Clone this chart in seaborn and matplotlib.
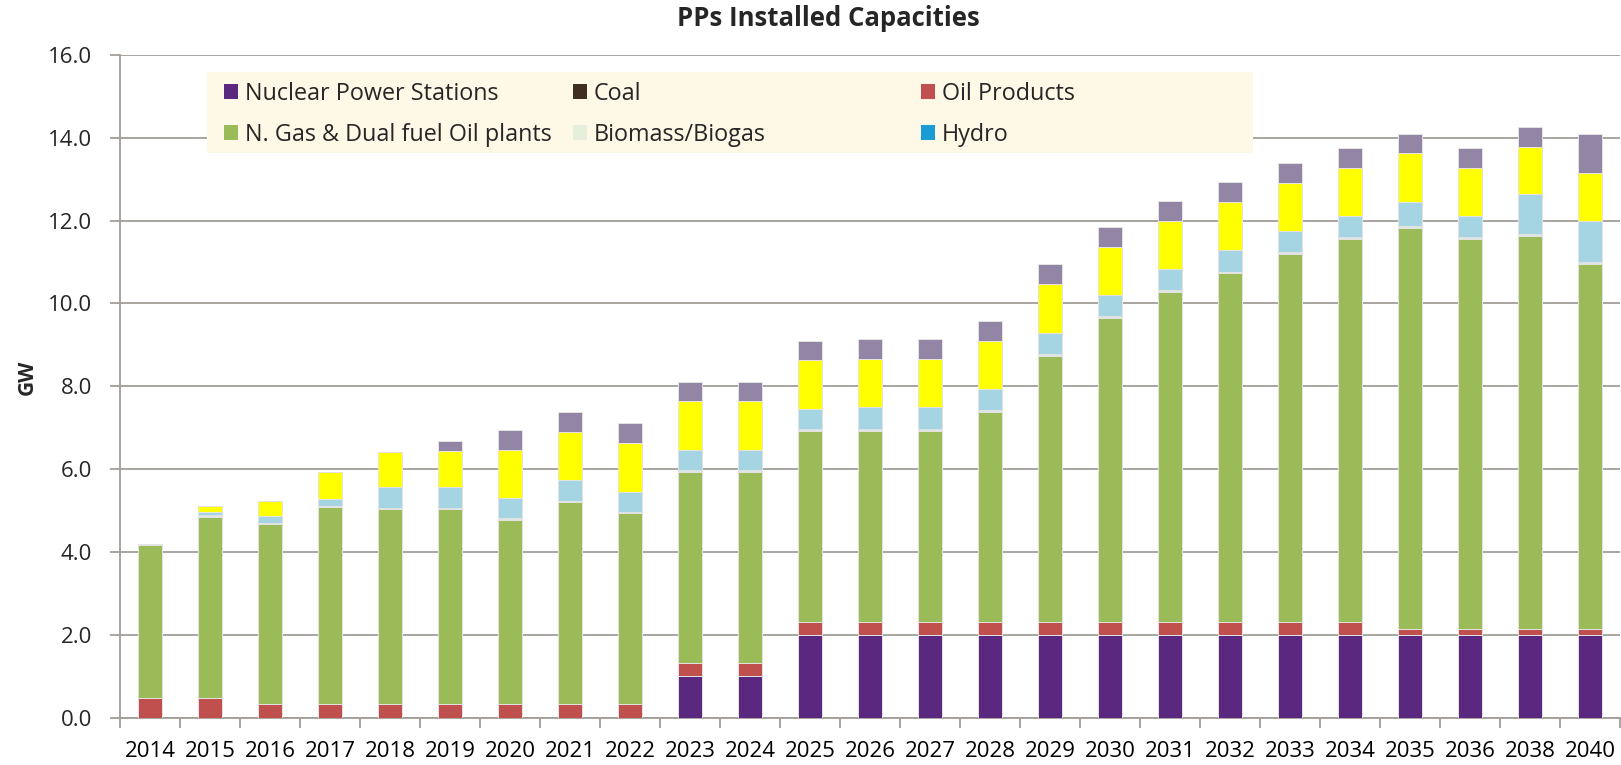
import matplotlib
matplotlib.use("Agg")
import matplotlib.pyplot as plt
from matplotlib.patches import Patch, Rectangle
from matplotlib.ticker import FormatStrFormatter, FixedLocator
import numpy as np
import pandas as pd
import seaborn as sns

sns.set_theme(style="white")
plt.rcParams["font.family"] = ["Open Sans", "DejaVu Sans"]

# ---- data (GW) ----
years = ["2014", "2015", "2016", "2017", "2018", "2019", "2020", "2021", "2022",
         "2023", "2024", "2025", "2026", "2027", "2028", "2029", "2030", "2031",
         "2032", "2033", "2034", "2035", "2036", "2038", "2040"]

nuclear = [0, 0, 0, 0, 0, 0, 0, 0, 0, 1.0, 1.0, 2.0, 2.0, 2.0, 2.0, 2.0, 2.0, 2.0,
           2.0, 2.0, 2.0, 2.0, 2.0, 2.0, 2.0]
coal = [0] * 25
oil_products = [0.47, 0.47, 0.32, 0.32, 0.32, 0.32, 0.32, 0.32, 0.32, 0.32, 0.32,
                0.31, 0.31, 0.31, 0.31, 0.31, 0.31, 0.31, 0.31, 0.31, 0.31,
                0.14, 0.14, 0.14, 0.14]
natural_gas = [3.71, 4.38, 4.35, 4.76, 4.71, 4.71, 4.45, 4.88, 4.61, 4.62, 4.62,
               4.62, 4.62, 4.62, 5.08, 6.43, 7.35, 7.97, 8.42, 8.89, 9.25,
               9.68, 9.42, 9.49, 8.81]
biomass = [0.02] * 25
hydro = [0, 0.02, 0.02, 0.02, 0.02, 0.02, 0.02, 0.02, 0.02, 0.02, 0.02, 0.02, 0.02,
         0.02, 0.02, 0.02, 0.02, 0.02, 0.02, 0.02, 0.02, 0.02, 0.02, 0.02, 0.02]
# series drawn in the chart but cut off from its legend
wind = [0, 0.08, 0.17, 0.15, 0.50, 0.50, 0.49, 0.49, 0.49, 0.49, 0.49, 0.49, 0.52,
        0.52, 0.51, 0.51, 0.51, 0.52, 0.53, 0.52, 0.52, 0.60, 0.52, 0.96, 1.01]
solar_pv = [0, 0.13, 0.35, 0.67, 0.84, 0.86, 1.17, 1.17, 1.17, 1.17, 1.17, 1.17,
            1.17, 1.17, 1.16, 1.18, 1.15, 1.15, 1.14, 1.14, 1.15, 1.16, 1.15, 1.15, 1.14]
csp = [0, 0, 0, 0, 0, 0.24, 0.47, 0.48, 0.48, 0.47, 0.47, 0.47, 0.47, 0.47, 0.47,
       0.47, 0.48, 0.48, 0.49, 0.48, 0.48, 0.47, 0.48, 0.48, 0.95]

series = [
    ("Nuclear Power Stations", nuclear, "#5a287e"),
    ("Coal", coal, "#3f2f20"),
    ("Oil Products", oil_products, "#c0504d"),
    ("N. Gas & Dual fuel Oil plants", natural_gas, "#9bbb59"),
    ("Biomass/Biogas", biomass, "#e6efdb"),
    ("Hydro", hydro, "#1b9bd3"),
    ("Wind", wind, "#a5d5e2"),
    ("Solar PV", solar_pv, "#ffff00"),
    ("CSP", csp, "#9385a5"),
]

df = pd.DataFrame({name: vals for name, vals, _ in series}, index=years)
cum = df.cumsum(axis=1)

GRID = "#a19d99"

fig = plt.figure(figsize=(16.21, 7.65), dpi=100)
ax = fig.add_axes([0.0740, 0.0618, 0.9254, 0.8665])

# stacked bars: draw cumulative totals from the top layer down
for name, _, color in reversed(series):
    sns.barplot(x=years, y=cum[name].values, color=color, saturation=1,
                width=0.4, edgecolor="#e4e4e4", linewidth=0.7, ax=ax, zorder=3)

ax.set_ylim(0, 16)
ax.set_xlim(-0.5, len(years) - 0.5)
ax.set_yticks(np.arange(0, 16.1, 2))
ax.yaxis.set_major_formatter(FormatStrFormatter("%.1f"))
ax.yaxis.grid(True, color=GRID, linewidth=1.3)
ax.set_axisbelow(True)
for side in ["top", "right"]:
    ax.spines[side].set_visible(False)
for side in ["left", "bottom"]:
    ax.spines[side].set_color(GRID)
    ax.spines[side].set_linewidth(1.3)

ax.xaxis.set_minor_locator(FixedLocator(np.arange(-0.5, len(years), 1)))
ax.tick_params(axis="x", which="major", length=0, pad=17, labelsize=16, colors="black")
ax.tick_params(axis="x", which="minor", length=7, width=1.3, color=GRID, bottom=True)
ax.tick_params(axis="y", which="major", length=7, width=1.3, color=GRID, pad=13,
               labelsize=16, left=True)

ax.set_xlabel("")
ax.set_ylabel("GW", fontsize=15, fontweight="bold")
ax.yaxis.set_label_coords(-0.055, 0.513)

fig.text(0.5108, 0.966, "PPs Installed Capacities", ha="center", va="baseline",
         fontsize=18.5, fontweight="bold")

# legend: cream box with three columns of two entries
fig.patches.append(Rectangle((0.1277, 0.80), 0.6453, 0.106, transform=fig.transFigure,
                             facecolor="#fef8e6", edgecolor="none", zorder=5))
handles = [Patch(facecolor=c, edgecolor="none") for _, _, c in series[:6]]
labels = [n for n, _, _ in series[:6]]
col_x = [0.1382, 0.3535, 0.5682]
for i, x in enumerate(col_x):
    leg = fig.legend([handles[i], handles[i + 3]], [labels[i], labels[i + 3]],
                     loc="upper left", bbox_to_anchor=(x, 0.893), frameon=False,
                     borderpad=0, borderaxespad=0, handlelength=0.6, handleheight=0.6,
                     handletextpad=0.3, labelspacing=0.74, fontsize=16.8)
    leg.set_zorder(6)

fig.savefig("out.png", dpi=100)
